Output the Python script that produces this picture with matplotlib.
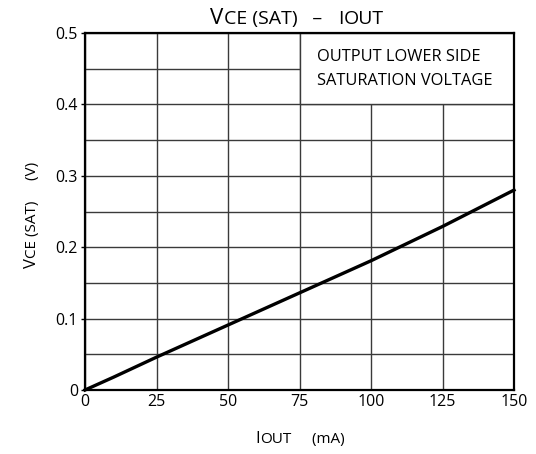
import matplotlib
matplotlib.use('Agg')
import matplotlib.pyplot as plt
from matplotlib.patches import Rectangle

plt.rcParams['font.family'] = ['Open Sans', 'DejaVu Sans']

# data
i_out = [0, 5, 10, 25, 50, 75, 100, 125, 150]          # mA
v_sat = [0, 0.009, 0.018, 0.046, 0.091, 0.136, 0.181, 0.229, 0.280]  # V

x_ticks = [0, 25, 50, 75, 100, 125, 150]
y_ticks = [0, 0.1, 0.2, 0.3, 0.4, 0.5]
y_tick_labels = ['0', '0.1', '0.2', '0.3', '0.4', '0.5']
note_lines = ['OUTPUT LOWER SIDE', 'SATURATION VOLTAGE']

fig = plt.figure(figsize=(5.36, 4.54), dpi=100)
ax = fig.add_axes([85/536, 64/454, 429/536, 357/454])

ax.set_xlim(0, 150)
ax.set_ylim(0, 0.5)
ax.set_xticks(x_ticks)
ax.set_yticks(y_ticks)
ax.set_yticklabels(y_tick_labels)
ax.set_yticks([0.05, 0.15, 0.25, 0.35, 0.45], minor=True)
ax.grid(True, which='both', color='#3a3a3a', linewidth=1.0)
ax.set_axisbelow(True)
ax.tick_params(axis='x', length=0, pad=3, labelsize=11.5)
ax.tick_params(axis='y', which='major', length=3, width=1, pad=2, labelsize=11.5)
ax.tick_params(axis='y', which='minor', length=0)
for s in ax.spines.values():
    s.set_linewidth(1.6)
    s.set_color('black')

# white note box hides the grid in the upper right
ax.add_patch(Rectangle((75, 0.4), 75, 0.1, facecolor='white', edgecolor='#3a3a3a',
                       linewidth=1.0, zorder=1))
ax.text(81.0, 0.45, '\n'.join(note_lines), ha='left', va='center',
        fontsize=11.8, linespacing=1.65, zorder=3)

ax.plot(i_out, v_sat, color='black', linewidth=2.4, zorder=4, clip_on=False)


def pieces(parts, x, y, rotation=0):
    # lay out text pieces of different sizes one after another (figure pixels)
    fig.canvas.draw()
    r = fig.canvas.get_renderer()
    texts = []
    for s, size in parts:
        t = fig.text(0, 0, s, fontsize=size, rotation=rotation,
                     ha='left', va='baseline', rotation_mode='anchor')
        texts.append(t)
    widths = [t.get_window_extent(r).width if rotation == 0
              else t.get_window_extent(r).height for t in texts]
    total = sum(widths)
    pos = -total / 2
    for t, w in zip(texts, widths):
        if rotation == 0:
            t.set_position(((x + pos) / 536, y / 454))
        else:
            t.set_position((x / 536, (y + pos) / 454))
        pos += w


pieces([('V', 16), ('CE (SAT)', 14), ('   –   ', 14), ('I', 14), ('OUT', 14)], 297, 454 - 24)
pieces([('I', 12), ('OUT', 11), ('     (mA)', 11)], 300, 454 - 443)
pieces([('V', 12), ('CE (SAT)', 11), ('     (V)', 11)], 36, 454 - 215, rotation=90)

fig.savefig('out.png', dpi=100)
